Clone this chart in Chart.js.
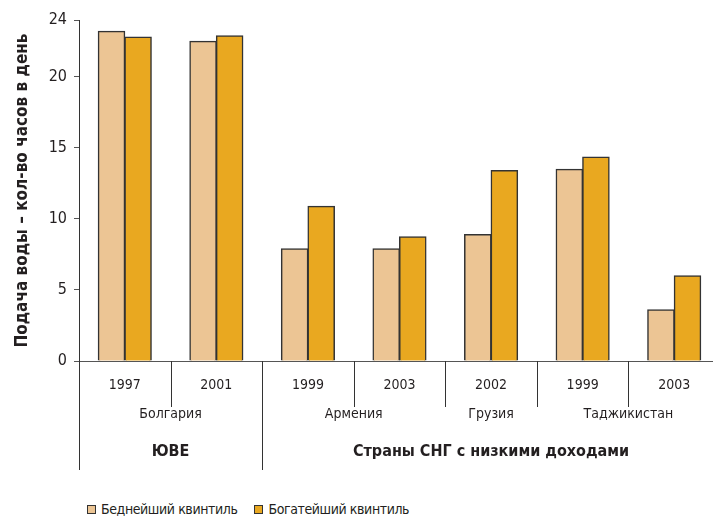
<!DOCTYPE html>
<html>
<head>
<meta charset="utf-8">
<script src="https://cdn.jsdelivr.net/npm/chart.js@4.4.1/dist/chart.umd.min.js"></script>
<style>
html, body { margin: 0; padding: 0; background: #fff; overflow: hidden; width: 713px; height: 517px; }
#wrap { position: relative; width: 720px; height: 480px; }
#legend { position: absolute; left: 87px; top: 501px; height: 16px; display: flex; font-family: "Liberation Sans Narrow", "DejaVu Sans Condensed", sans-serif; font-size: 14px; letter-spacing: -0.4px; color: #231f20; }
#legend span.item { display: flex; align-items: center; margin-right: 17px; }
#legend span.box { display: inline-block; width: 7px; height: 7px; border: 1px solid #333; margin-right: 5px; }
</style>
</head>
<body>
<div id="wrap"><canvas id="chart"></canvas></div>
<div id="legend"></div>
<script>
const FONT = '"Liberation Sans Narrow", "DejaVu Sans Condensed", sans-serif';
const TEXT = "#231f20";

const years = ["1997", "2001", "1999", "2003", "2002", "1999", "2003"];
const countryNames = ["Болгария", "Армения", "Грузия", "Таджикистан"];
const countrySpans = [[0, 1], [2, 3], [4, 4], [5, 6]];
const regionNames = ["ЮВЕ", "Страны СНГ с низкими доходами"];
const regionSpans = [[0, 1], [2, 6]];

const seriesNames = ["Беднейший квинтиль", "Богатейший квинтиль"];
const poorest = [23.2, 22.5, 7.9, 7.9, 8.9, 13.5, 3.6];
const richest = [22.8, 22.9, 10.9, 8.75, 13.4, 14.35, 6.0];
const colours = ["#ecc594", "#e9a820"];

const yTicks = [0, 5, 10, 15, 20, 24];
const yTitle = "Подача воды – кол-во часов в день";

// extra label rows and separators under the x axis
const groupRows = {
    id: "groupRows",
    afterDraw(chart) {
        const ctx = chart.ctx;
        const x = chart.scales.x;
        const base = x.top;
        const half = (x.getPixelForValue(1) - x.getPixelForValue(0)) / 2;
        const mid = (a, b) => (x.getPixelForValue(a) + x.getPixelForValue(b)) / 2;
        const regionStarts = regionSpans.map(s => s[0]);

        ctx.save();
        ctx.strokeStyle = "#333";
        ctx.lineWidth = 1;
        for (let i = 0; i < years.length; ++i) {
            const bx = Math.round(x.getPixelForValue(i) - half) + 0.5;
            const long = regionStarts.includes(i);
            ctx.beginPath();
            ctx.moveTo(bx, base);
            ctx.lineTo(bx, long ? base + 109 : base + 46);
            ctx.stroke();
        }

        ctx.fillStyle = TEXT;
        ctx.textAlign = "center";
        ctx.textBaseline = "middle";
        ctx.font = "14px " + FONT;
        for (let i = 0; i < countryNames.length; ++i) {
            ctx.fillText(countryNames[i], mid(countrySpans[i][0], countrySpans[i][1]), base + 53);
        }
        ctx.font = "bold 16px " + FONT;
        for (let i = 0; i < regionNames.length; ++i) {
            ctx.fillText(regionNames[i], mid(regionSpans[i][0], regionSpans[i][1]), base + 91);
        }
        ctx.restore();
    }
};

const data = {
    labels: years,
    datasets: [
        { label: seriesNames[0], data: poorest, backgroundColor: colours[0] },
        { label: seriesNames[1], data: richest, backgroundColor: colours[1] }
    ]
};

const config = {
    type: "bar",
    data,
    options: {
        responsive: true,
        maintainAspectRatio: false,
        animation: false,
        layout: { padding: { top: 20, left: 0, right: 0, bottom: 0 } },
        datasets: {
            bar: {
                borderColor: "#333",
                borderWidth: 1.5,
                inflateAmount: 0.5,
                categoryPercentage: 0.58,
                barPercentage: 1
            }
        },
        plugins: {
            legend: { display: false },
            tooltip: { enabled: false }
        },
        scales: {
            x: {
                grid: { display: false, drawTicks: false },
                border: { display: true, color: "#555", width: 1 },
                ticks: { color: TEXT, font: { family: FONT, size: 14 }, padding: 16, maxRotation: 0 },
                afterFit(scale) { scale.height = 119; }
            },
            y: {
                min: 0,
                max: 24,
                afterBuildTicks(scale) { scale.ticks = yTicks.map(v => ({ value: v })); },
                grid: { drawOnChartArea: false, drawTicks: true, tickLength: 5, color: "#555" },
                border: { display: true, color: "#333", width: 1 },
                ticks: { color: TEXT, font: { family: FONT, size: 16 }, padding: 7 },
                title: {
                    display: true,
                    text: yTitle,
                    color: TEXT,
                    font: { family: FONT, size: 17, weight: "bold" },
                    padding: { top: 12, bottom: 4 }
                },
                afterFit(scale) { scale.width = 79; }
            }
        }
    },
    plugins: [groupRows]
};

const ctx = document.getElementById("chart");
if (ctx) {
    new Chart(ctx, config);
}

const legend = document.getElementById("legend");
for (let i = 0; i < seriesNames.length; ++i) {
    const item = document.createElement("span");
    item.className = "item";
    const box = document.createElement("span");
    box.className = "box";
    box.style.background = colours[i];
    item.appendChild(box);
    item.appendChild(document.createTextNode(seriesNames[i]));
    legend.appendChild(item);
}
</script>
</body>
</html>
